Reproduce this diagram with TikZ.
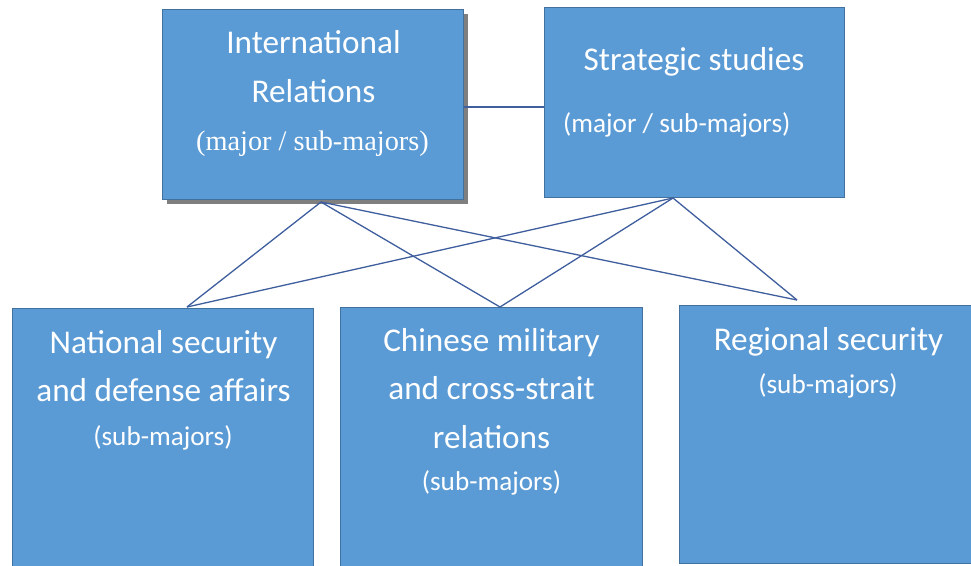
\documentclass[tikz,border=0pt]{standalone}
\usepackage{fontspec}
\setmainfont{Carlito}
\newfontfamily\serifx{Liberation Serif}
\usetikzlibrary{shadows}
\definecolor{boxfill}{HTML}{5B9BD5}
\definecolor{boxline}{HTML}{41719C}
\definecolor{conn}{HTML}{3F5E9E}
\definecolor{shade}{HTML}{7F7F7F}
\begin{document}
\begin{tikzpicture}[x=1pt,y=-1pt,
  box/.style={draw=boxline,line width=1pt,fill=boxfill,rectangle,inner sep=0pt},
  shbox/.style={box,drop shadow={shadow xshift=4.5pt,shadow yshift=-4.5pt,fill=shade,opacity=1}},
  ttl/.style={anchor=base,inner sep=0pt,text=white,font=\fontsize{33.2}{37}\selectfont},
  sub/.style={anchor=base,inner sep=0pt,text=white,font=\fontsize{27.2}{31}\selectfont},
  subserif/.style={anchor=base,inner sep=0pt,text=white,font=\serifx\fontsize{28.3}{32}\selectfont},
  link/.style={draw=conn,line width=1.3pt}]
\useasboundingbox (0,0) rectangle (971,565);
\clip (0,0) rectangle (971,565);
\fill[white] (0,0) rectangle (971,565);
% boxes
\node[shbox,minimum width=301pt,minimum height=190pt] (ir) at (312.5,104) {};
\node[box,minimum width=300pt,minimum height=190pt] (ss) at (694,102) {};
\node[box,minimum width=301pt,minimum height=272pt] (nat) at (162.5,444) {};
\node[box,minimum width=302pt,minimum height=273pt] (chi) at (491,443.5) {};
\node[box,minimum width=300pt,minimum height=258pt] (reg) at (829,434) {};
% connector points
\coordinate (irb) at (321,202);
\coordinate (ssb) at (673,198);
\coordinate (natt) at (187,307);
\coordinate (chit) at (500,307);
\coordinate (regt) at (797,300);
\coordinate (hy) at (0,107);
\draw[link] (ir.east |- hy) -- (ss.west |- hy);
\draw[link] (irb) -- (natt);
\draw[link] (irb) -- (chit);
\draw[link] (irb) -- (regt);
\draw[link] (ssb) -- (natt);
\draw[link] (ssb) -- (chit);
\draw[link] (ssb) -- (regt);
% texts
\node[ttl] (ir1) at (313.5,53) {International};
\node[ttl] (ir2) at (313.5,102) {Relations};
\node[subserif] (ir3) at (312.5,150) {(major / sub-majors)};
\node[ttl] (ss1) at (694,70) {Strategic studies};
\node[sub,anchor=base west] (ss2) at (563,132) {(major / sub-majors)};
\node[ttl] (nat1) at (163.5,353) {National security};
\node[ttl] (nat2) at (163.5,401.7) {and defense affairs};
\node[sub] (nat3) at (163,445) {(sub-majors)};
\node[ttl] (chi1) at (491.5,351.7) {Chinese military};
\node[ttl] (chi2) at (491.5,399) {and cross-strait};
\node[ttl] (chi3) at (491.5,448) {relations};
\node[sub] (chi4) at (491.5,490) {(sub-majors)};
\node[ttl] (reg1) at (828.5,350) {Regional security};
\node[sub] (reg2) at (828,393) {(sub-majors)};
\end{tikzpicture}
\end{document}
